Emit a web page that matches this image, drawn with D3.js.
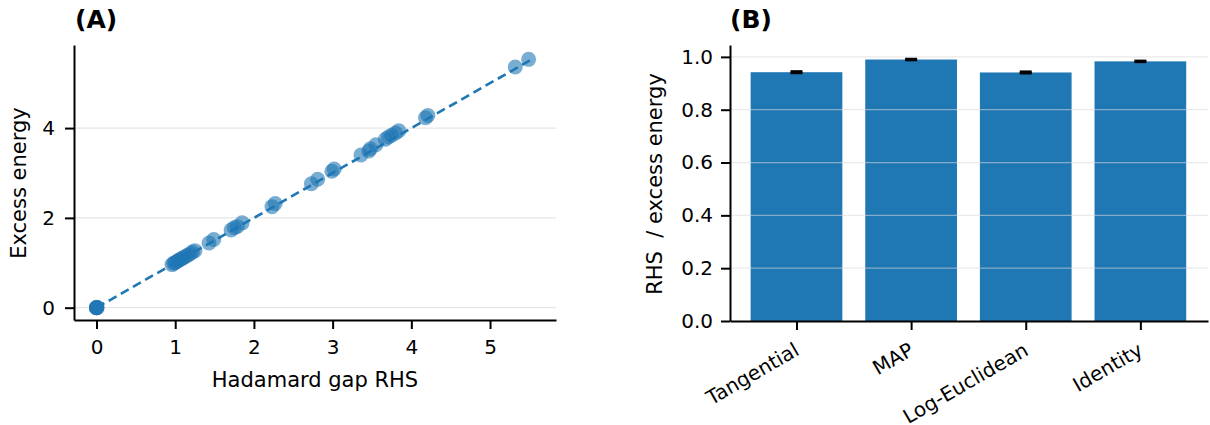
<!DOCTYPE html>
<html>
<head>
<meta charset="utf-8">
<script src="https://cdn.jsdelivr.net/npm/d3@7"></script>
<style>
  body { margin: 0; background: #fff; }
  svg text { font-family: "DejaVu Sans", sans-serif; fill: #000; }
</style>
</head>
<body>
<div class="chart"></div>
<script>
// panel A: excess energy vs Hadamard gap RHS
const gapRHS = [0, 0, 0, 0, 0, 0.01,
  0.96, 0.98, 1.0, 1.02, 1.04, 1.06, 1.08, 1.1, 1.13, 1.16, 1.19, 1.22, 1.25,
  1.43, 1.49, 1.71, 1.75, 1.79, 1.85, 2.23, 2.27, 2.73, 2.81, 2.99, 3.02,
  3.36, 3.46, 3.48, 3.55, 3.67, 3.71, 3.75, 3.8, 3.84, 4.18, 4.21, 5.32, 5.49];
const excessEnergy = [0, 0, 0, 0, 0, 0.01,
  0.96, 0.99, 1.0, 1.03, 1.05, 1.07, 1.09, 1.11, 1.14, 1.17, 1.2, 1.24, 1.27,
  1.44, 1.52, 1.73, 1.78, 1.81, 1.89, 2.25, 2.32, 2.76, 2.86, 3.04, 3.09,
  3.4, 3.49, 3.54, 3.63, 3.75, 3.8, 3.84, 3.89, 3.94, 4.23, 4.28, 5.36, 5.53];
const refLine = [0, 5.55];

// panel B: ratio per method
const methods = ["Tangential", "MAP", "Log-Euclidean", "Identity"];
const ratio = [0.942, 0.990, 0.941, 0.983];
const ratioErr = [0.003, 0.002, 0.003, 0.002];

const blue = "#1f77b4";
const width = 1210, height = 425;

const svg = d3.select(".chart").append("svg")
    .attr("width", width)
    .attr("height", height);

function styleAxis(g) {
  g.select(".domain").attr("stroke", "#000").attr("stroke-width", 2);
  g.selectAll(".tick line").attr("stroke", "#000").attr("stroke-width", 2);
  g.selectAll(".tick text").attr("font-size", 20).attr("fill", "#000");
}

// ---------- (A) ----------
const xA = d3.scaleLinear().domain([-0.286, 5.838]).range([74, 556]);
const yA = d3.scaleLinear().domain([-0.274, 5.85]).range([320, 45]);

const gA = svg.append("g");

gA.append("g")
    .selectAll("line")
    .data([0, 2, 4])
    .join("line")
    .attr("x1", xA.range()[0]).attr("x2", xA.range()[1])
    .attr("y1", d => yA(d)).attr("y2", d => yA(d))
    .attr("stroke", "#e6e6e6").attr("stroke-width", 1.2);

gA.append("line")
    .attr("x1", xA(refLine[0])).attr("y1", yA(refLine[0]))
    .attr("x2", xA(refLine[1])).attr("y2", yA(refLine[1]))
    .attr("stroke", blue).attr("stroke-width", 2.6)
    .attr("stroke-dasharray", "9,5");

gA.append("g")
    .selectAll("circle")
    .data(gapRHS.map((d, i) => [d, excessEnergy[i]]))
    .join("circle")
    .attr("cx", d => xA(d[0]))
    .attr("cy", d => yA(d[1]))
    .attr("r", 7.5)
    .attr("fill", blue)
    .attr("fill-opacity", 0.6);

gA.append("g")
    .attr("transform", `translate(0,${yA.range()[0]})`)
    .call(d3.axisBottom(xA).tickValues([0, 1, 2, 3, 4, 5]).tickFormat(d3.format("d")).tickSize(9).tickPadding(11).tickSizeOuter(0))
    .call(styleAxis);

gA.append("g")
    .attr("transform", `translate(${xA.range()[0]},0)`)
    .call(d3.axisLeft(yA).tickValues([0, 2, 4]).tickFormat(d3.format("d")).tickSize(9).tickPadding(10).tickSizeOuter(0))
    .call(styleAxis);

gA.append("text")
    .attr("x", 315).attr("y", 387)
    .attr("text-anchor", "middle")
    .attr("font-size", 21)
    .text("Hadamard gap RHS");

gA.append("text")
    .attr("transform", "translate(26,183) rotate(-90)")
    .attr("text-anchor", "middle")
    .attr("font-size", 21)
    .text("Excess energy");

gA.append("text")
    .attr("x", 75).attr("y", 28)
    .attr("font-size", 25).attr("font-weight", "bold")
    .text("(A)");

// ---------- (B) ----------
const xB = d3.scaleLinear().domain([-0.58, 3.59]).range([730, 1208]);
const yB = d3.scaleLinear().domain([0, 1.045]).range([321, 45]);
const barW = xB(0.4) - xB(-0.4);

const gB = svg.append("g");

gB.append("g")
    .selectAll("rect")
    .data(methods)
    .join("rect")
    .attr("x", (d, i) => xB(i) - barW / 2)
    .attr("width", barW)
    .attr("y", (d, i) => yB(ratio[i]))
    .attr("height", (d, i) => yB(0) - yB(ratio[i]))
    .attr("fill", blue);

gB.append("g")
    .selectAll("line")
    .data([0.2, 0.4, 0.6, 0.8, 1.0])
    .join("line")
    .attr("x1", xB.range()[0]).attr("x2", xB.range()[1])
    .attr("y1", d => yB(d)).attr("y2", d => yB(d))
    .attr("stroke", "#d9d9d9").attr("stroke-width", 1.2)
    .attr("stroke-opacity", 0.55);

const err = gB.append("g").attr("stroke", "#000").attr("stroke-width", 2.5);
methods.forEach((m, i) => {
  const cx = xB(i);
  err.append("line")
      .attr("x1", cx).attr("x2", cx)
      .attr("y1", yB(ratio[i] - ratioErr[i])).attr("y2", yB(ratio[i] + ratioErr[i]));
  [ratio[i] - ratioErr[i], ratio[i] + ratioErr[i]].forEach(v => {
    err.append("line")
        .attr("x1", cx - 6).attr("x2", cx + 6)
        .attr("y1", yB(v)).attr("y2", yB(v));
  });
});

const axB = gB.append("g")
    .attr("transform", `translate(0,${yB.range()[0]})`)
    .call(d3.axisBottom(xB).tickValues([0, 1, 2, 3]).tickFormat(i => methods[i]).tickSize(9).tickSizeOuter(0))
    .call(styleAxis);
axB.selectAll(".tick text")
    .attr("text-anchor", "end")
    .attr("y", 0)
    .attr("transform", "translate(0,27) rotate(-30)")
    .attr("dy", "0.35em");

gB.append("g")
    .attr("transform", `translate(${xB.range()[0]},0)`)
    .call(d3.axisLeft(yB).tickValues([0, 0.2, 0.4, 0.6, 0.8, 1.0]).tickFormat(d3.format(".1f")).tickSize(9).tickPadding(8).tickSizeOuter(0))
    .call(styleAxis);

gB.append("text")
    .attr("transform", "translate(662,184) rotate(-90)")
    .attr("text-anchor", "middle")
    .attr("font-size", 21)
    .text("RHS \u00a0/ excess energy");

gB.append("text")
    .attr("x", 730).attr("y", 28)
    .attr("font-size", 25).attr("font-weight", "bold")
    .text("(B)");
</script>
</body>
</html>
